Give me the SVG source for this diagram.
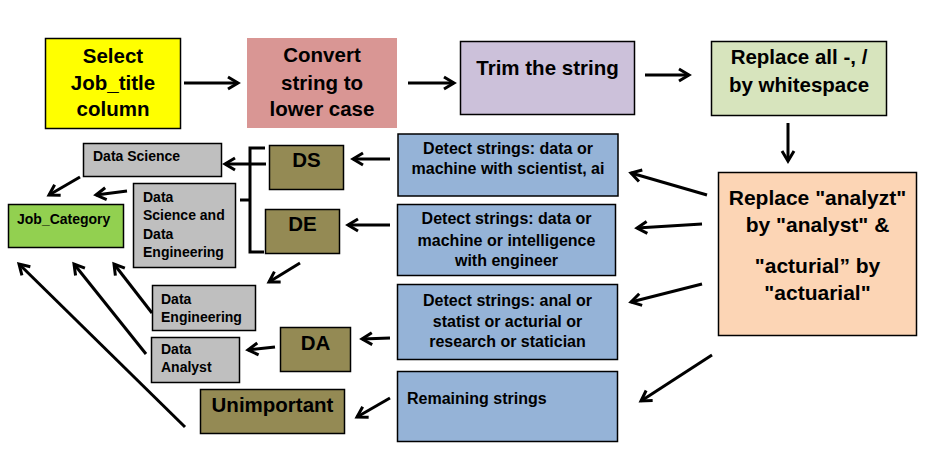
<svg xmlns="http://www.w3.org/2000/svg" width="929" height="454" viewBox="0 0 929 454">
<defs>
<style>
text{font-family:"Liberation Sans",Arial,sans-serif;font-weight:bold;fill:#000}
.t{font-size:20.5px;text-anchor:middle}
.b{font-size:16px;text-anchor:middle}
.r{font-size:21px;text-anchor:middle}
.g{font-size:14px}
.o{font-size:20.5px;text-anchor:middle}
.bx{stroke:#000;stroke-width:1.5}
.c line,.c path{stroke:#000;stroke-width:3;fill:none}
.c line{marker-end:url(#ah)}
</style>
<marker id="ah" markerUnits="userSpaceOnUse" markerWidth="20" markerHeight="20" refX="0" refY="0" viewBox="-12 -10 16 20" orient="auto">
<path d="M-10,-6 L0,0 L-10,6" fill="none" stroke="#000" stroke-width="3"/>
</marker>
</defs>
<rect width="929" height="454" fill="#fff"/>

<g id="select">
<rect class="bx" x="45.5" y="38.5" width="135" height="90" fill="#FFFF00"/>
<text class="t" x="113" y="63">Select</text>
<text class="t" x="113" y="90">Job_title</text>
<text class="t" x="113" y="116">column</text>
</g>
<g id="convert">
<rect x="247" y="38" width="150" height="90" fill="#D99694"/>
<text class="t" x="322" y="62">Convert</text>
<text class="t" x="322" y="90">string to</text>
<text class="t" x="322" y="116">lower case</text>
</g>
<g id="trim">
<rect class="bx" x="460.5" y="41.5" width="174" height="73" fill="#CCC1DA"/>
<text class="t" x="547.5" y="75">Trim the string</text>
</g>
<g id="replaceall">
<rect class="bx" x="711.5" y="41.5" width="175" height="74" fill="#D7E4BD"/>
<text class="t" x="799" y="64">Replace all -, /</text>
<text class="t" x="799" y="92">by whitespace</text>
</g>
<g id="replaceanalyzt">
<rect class="bx" x="718.5" y="172.5" width="198" height="163" fill="#FCD5B5"/>
<text class="r" x="817.5" y="205">Replace "analyzt"</text>
<text class="r" x="817.5" y="232">by "analyst" &amp;</text>
<text class="r" x="817.5" y="273">"acturial” by</text>
<text class="r" x="817.5" y="300">"actuarial"</text>
</g>

<g id="detect1">
<rect class="bx" x="398" y="134" width="220" height="62" fill="#95B3D7"/>
<text class="b" x="508" y="154">Detect strings: data or</text>
<text class="b" x="508" y="174">machine with scientist, ai</text>
</g>
<g id="detect2">
<rect class="bx" x="397.5" y="204.5" width="218" height="71" fill="#95B3D7"/>
<text class="b" x="506.5" y="224">Detect strings: data or</text>
<text class="b" x="506.5" y="246">machine or intelligence</text>
<text class="b" x="506.5" y="266">with engineer</text>
</g>
<g id="detect3">
<rect class="bx" x="397.5" y="284.5" width="220" height="75" fill="#95B3D7"/>
<text class="b" x="507.5" y="306">Detect strings: anal or</text>
<text class="b" x="507.5" y="327">statist or acturial or</text>
<text class="b" x="507.5" y="347">research or statician</text>
</g>
<g id="remaining">
<rect class="bx" x="397.5" y="371.5" width="220" height="70" fill="#95B3D7"/>
<text class="b" x="407" y="404" style="text-anchor:start">Remaining strings</text>
</g>

<g id="DS">
<rect class="bx" x="269.5" y="145.5" width="74" height="44" fill="#948A54"/>
<text class="o" x="306.5" y="167">DS</text>
</g>
<g id="DE">
<rect class="bx" x="265.5" y="209.5" width="74" height="44" fill="#948A54"/>
<text class="o" x="302.5" y="231">DE</text>
</g>
<g id="DA">
<rect class="bx" x="280.5" y="327.5" width="70" height="44" fill="#948A54"/>
<text class="o" x="315.5" y="350">DA</text>
</g>
<g id="unimportant">
<rect class="bx" x="200.5" y="389.5" width="144" height="44" fill="#948A54"/>
<text class="o" x="272.5" y="412">Unimportant</text>
</g>

<g id="datascience">
<rect class="bx" x="83.5" y="143.5" width="138" height="33" fill="#BFBFBF"/>
<text class="g" x="93" y="161">Data Science</text>
</g>
<g id="dsde">
<rect class="bx" x="133.5" y="183.5" width="102" height="84" fill="#BFBFBF"/>
<text class="g" x="143" y="202">Data</text>
<text class="g" x="143" y="220">Science and</text>
<text class="g" x="143" y="239">Data</text>
<text class="g" x="143" y="257">Engineering</text>
</g>
<g id="dataengineering">
<rect class="bx" x="152.5" y="285.5" width="103" height="45" fill="#BFBFBF"/>
<text class="g" x="161" y="304">Data</text>
<text class="g" x="161" y="322">Engineering</text>
</g>
<g id="dataanalyst">
<rect class="bx" x="151.5" y="337.5" width="88" height="45" fill="#BFBFBF"/>
<text class="g" x="161" y="354">Data</text>
<text class="g" x="161" y="372">Analyst</text>
</g>
<g id="jobcategory">
<rect class="bx" x="8.5" y="204.5" width="115" height="43" fill="#92D050"/>
<text class="g" x="17" y="224">Job_Category</text>
</g>

<g id="connectors" class="c">
<line x1="184" y1="83" x2="238" y2="83"/>
<line x1="408" y1="83" x2="454" y2="83"/>
<line x1="645" y1="75" x2="689" y2="75"/>
<line x1="788" y1="123" x2="788" y2="161"/>
<line x1="707" y1="195" x2="631" y2="173"/>
<line x1="702" y1="224" x2="637" y2="228"/>
<line x1="702" y1="284" x2="631" y2="302"/>
<line x1="712" y1="355" x2="641" y2="401"/>
<line x1="390" y1="159" x2="353" y2="159"/>
<line x1="390" y1="225" x2="348" y2="225"/>
<line x1="390" y1="338" x2="362" y2="339"/>
<line x1="390" y1="398" x2="357" y2="417"/>
<path d="M265,148 H250 V252 H264 M240,200 H250"/>
<line x1="266" y1="164" x2="225" y2="164"/>
<line x1="300" y1="263" x2="269" y2="282"/>
<line x1="275" y1="347" x2="248" y2="350"/>
<line x1="80" y1="177" x2="49" y2="195"/>
<line x1="127" y1="191" x2="96" y2="195"/>
<line x1="152" y1="313" x2="114" y2="264"/>
<line x1="146" y1="354" x2="74" y2="264"/>
<line x1="185" y1="427" x2="19" y2="264"/>
</g>
</svg>
